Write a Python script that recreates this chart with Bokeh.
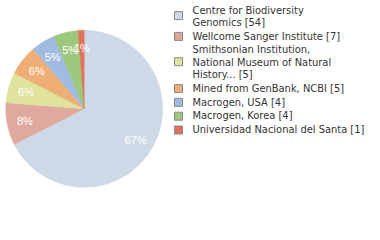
import math
from bokeh.plotting import figure
from bokeh.models import Range1d, ColumnDataSource
from bokeh.embed import file_html
from bokeh.resources import INLINE
from bokeh.core.properties import value

# ---- data ----
labels = [
    "Centre for Biodiversity Genomics",
    "Wellcome Sanger Institute",
    "Smithsonian Institution, National Museum of Natural History...",
    "Mined from GenBank, NCBI",
    "Macrogen, USA",
    "Macrogen, Korea",
    "Universidad Nacional del Santa",
]
legend_lines = [
    ["Centre for Biodiversity", "Genomics [54]"],
    ["Wellcome Sanger Institute [7]"],
    ["Smithsonian Institution,", "National Museum of Natural", "History... [5]"],
    ["Mined from GenBank, NCBI [5]"],
    ["Macrogen, USA [4]"],
    ["Macrogen, Korea [4]"],
    ["Universidad Nacional del Santa [1]"],
]
counts = [54, 7, 5, 5, 4, 4, 1]
colors = ["#cdd9e6", "#e0a99f", "#dfe39d", "#efae76", "#9fbbdf", "#9dc77b", "#e0725a"]

W, H = 380, 240
p = figure(width=W, height=H, output_backend="svg", toolbar_location=None,
           x_range=Range1d(0, W), y_range=Range1d(0, H), min_border=0)
p.axis.visible = False
p.grid.visible = False
p.outline_line_color = None
p.background_fill_color = "white"
p.border_fill_color = "white"

cx, cy, R = 83.7, H - 108.3, 78.5
total = sum(counts)
starts, ends, lx, ly, ltxt = [], [], [], [], []
acc = 0.0
for c in counts:
    a0 = math.pi / 2 - 2 * math.pi * acc / total
    a1 = math.pi / 2 - 2 * math.pi * (acc + c) / total
    starts.append(a0)
    ends.append(a1)
    mid = (a0 + a1) / 2
    rl = 0.77 * R if c / total > 0.02 else 0.77 * R
    lx.append(cx + rl * math.cos(mid))
    ly.append(cy + rl * math.sin(mid))
    ltxt.append(f"{int(100 * c / total)}%")
    acc += c

src = ColumnDataSource(dict(start=starts, end=ends, color=colors))
p.wedge(x=cx, y=cy, radius=R, start_angle="start", end_angle="end",
        direction="clock", fill_color="color", line_color="color", line_width=0.5, source=src)

p.text(x=lx, y=ly, text=ltxt, text_color="white", text_font=value("Liberation Sans"),
       text_font_size="11px", text_align="center", text_baseline="middle")

# legend
lh = 12.3
gap = 1.5
ycur = 9.5
tx, ty, tt = [], [], []
sx, sy = [], []
for lines in legend_lines:
    for i, ln in enumerate(lines):
        tx.append(192)
        ty.append(H - (ycur + i * lh))
        tt.append(ln)
    midy = ycur + (len(lines) - 1) * lh / 2
    sx.append(178)
    sy.append(H - (midy - 0.5 if len(lines) > 1 else midy + 0.3))
    ycur += len(lines) * lh + gap

p.rect(x=sx, y=sy, width=8, height=8, fill_color=colors, line_color="#888888", line_width=1)
p.text(x=tx, y=ty, text=tt, text_color="#333333", text_font=value("DejaVu Sans Condensed"),
       text_font_size="11px", text_align="left", text_baseline="middle")

open("out.html", "w").write(file_html(p, INLINE))
